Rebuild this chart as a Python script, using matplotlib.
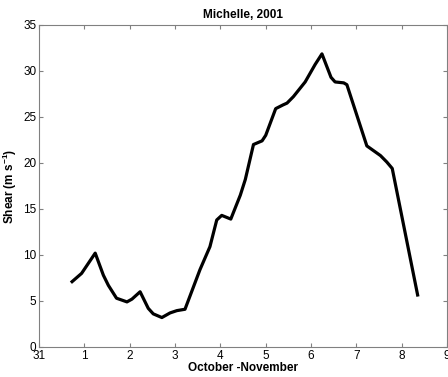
import matplotlib
matplotlib.use("Agg")
import matplotlib.pyplot as plt

# day index: 0 = Oct 31, 1 = Nov 1, ...
days = [0.73, 0.94, 1.24, 1.42, 1.53, 1.71, 1.94, 2.05, 2.23, 2.41, 2.52, 2.71,
        2.89, 3.04, 3.22, 3.55, 3.77, 3.92, 4.03, 4.23, 4.44, 4.55, 4.73, 4.92,
        5.0, 5.22, 5.38, 5.47, 5.61, 5.87, 6.09, 6.24, 6.44, 6.53, 6.72, 6.79,
        7.23, 7.53, 7.67, 7.79, 8.35]
shear = [7.1, 8.0, 10.2, 7.8, 6.7, 5.3, 4.9, 5.2, 6.0, 4.2, 3.6, 3.2,
         3.7, 3.95, 4.1, 8.4, 10.9, 13.8, 14.3, 13.9, 16.5, 18.2, 22.0, 22.4,
         23.0, 25.9, 26.3, 26.5, 27.2, 28.8, 30.7, 31.85, 29.3, 28.8, 28.7, 28.5,
         21.85, 20.8, 20.1, 19.4, 5.65]
tick_pos = list(range(10))
tick_labels = ['31', '1', '2', '3', '4', '5', '6', '7', '8', '9']

plt.rcParams['font.family'] = ['Liberation Sans', 'DejaVu Sans']
plt.rcParams['mathtext.fontset'] = 'custom'
plt.rcParams['mathtext.rm'] = 'Liberation Sans:bold'
plt.rcParams['mathtext.bf'] = 'Liberation Sans:bold'
plt.rcParams['mathtext.default'] = 'rm'

fig = plt.figure(figsize=(4.48, 3.77), dpi=100)
ax = fig.add_axes([0.087, 0.0796, 0.911, 0.8544])

ax.plot(days, shear, color='black', linewidth=2.3)

ax.set_xlim(0, 9)
ax.set_ylim(0, 35)
ax.set_xticks(tick_pos)
ax.set_xticklabels(tick_labels)
ax.set_yticks(range(0, 36, 5))

for s in ax.spines.values():
    s.set_color('#808080')
    s.set_linewidth(0.8)
ax.tick_params(direction='in', top=True, right=True, length=3, color='#808080',
               labelsize=8.5, pad=2)

ax.set_title('Michelle, 2001', fontsize=8.5, fontweight='bold', pad=5)
ax.set_xlabel('October -November', fontsize=8.5, fontweight='bold', labelpad=0)
ax.set_ylabel('Shear (m s$^{-1}$)', fontsize=8.5, fontweight='bold', labelpad=3)

fig.savefig('out.png', dpi=100)
